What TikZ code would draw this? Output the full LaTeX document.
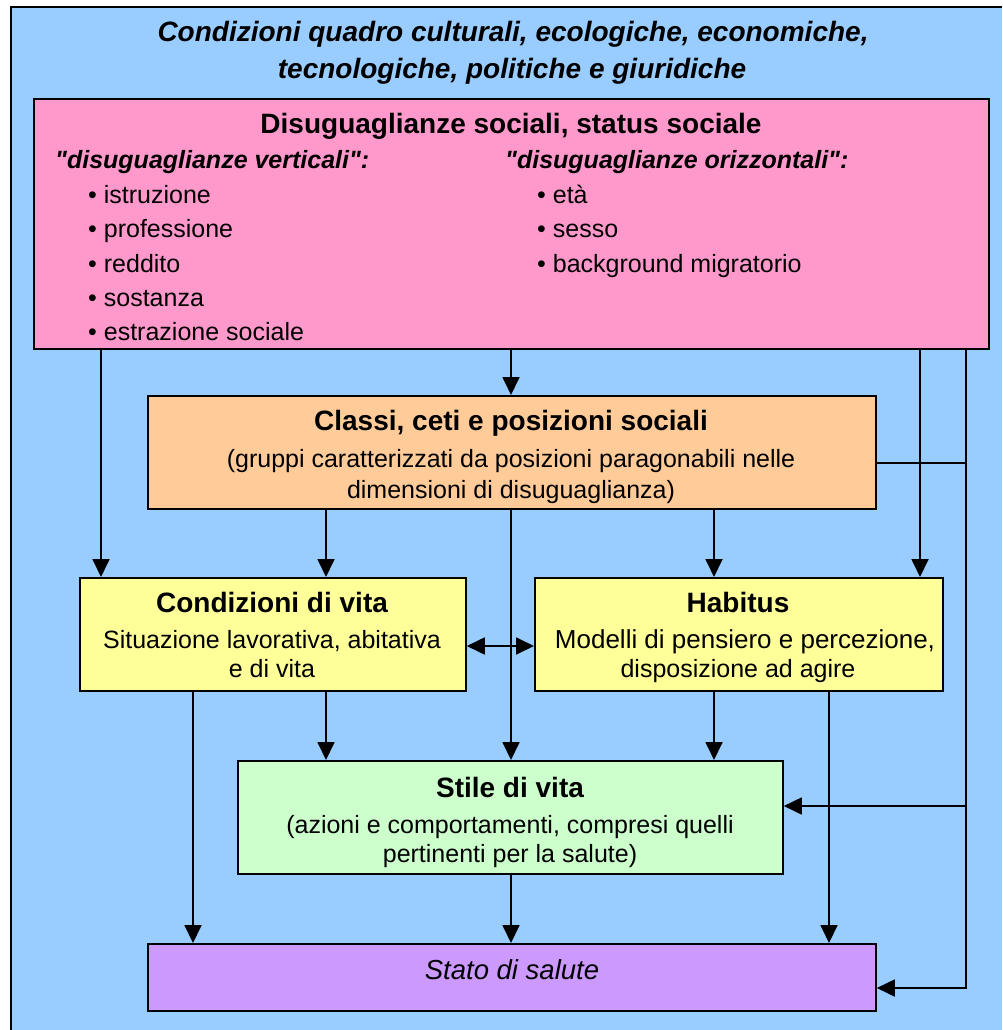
\documentclass[tikz,border=0pt]{standalone}
\usepackage{fontspec}
\setmainfont{Liberation Sans}
\usetikzlibrary{arrows.meta}
\definecolor{bgblue}{HTML}{99CCFF}
\definecolor{boxpink}{HTML}{FF99CC}
\definecolor{boxorange}{HTML}{FFCC99}
\definecolor{boxyellow}{HTML}{FFFF99}
\definecolor{boxgreen}{HTML}{CCFFCC}
\definecolor{boxviolet}{HTML}{CC99FF}
\newcommand{\bigbf}{\fontsize{28}{34}\selectfont\bfseries}
\newcommand{\normtxt}{\fontsize{25}{30}\selectfont}
\newcommand{\qt}{\textquotedbl}
\begin{document}
\begin{tikzpicture}[x=1pt,y=-1pt,
  box/.style={draw=black,line width=1.8pt,inner sep=0pt,anchor=north west},
  txt/.style={anchor=base,inner sep=0pt,font=\normtxt},
  head/.style={anchor=base,inner sep=0pt,font=\bigbf},
  lftxt/.style={anchor=base west,inner sep=0pt,font=\normtxt},
  conn/.style={line width=1.8pt},
  arr/.style={line width=1.8pt,-{Triangle[length=18pt,width=17pt]}},
  darr/.style={line width=1.8pt,{Triangle[length=18pt,width=17pt]}-{Triangle[length=18pt,width=17pt]}}]
\useasboundingbox (0,0) rectangle (1002,1030);
\fill[white] (0,0) rectangle (1002,1030);
% outer frame
\fill[bgblue] (11,7) rectangle (1002,1030);
\draw[line width=1.8pt] (11,1030) -- (11,7) -- (1002,7);
\node[head,font=\bigbf\itshape] (t1) at (513,42) {Condizioni quadro culturali, ecologiche, economiche,};
\node[head,font=\bigbf\itshape] (t2) at (512,79) {tecnologiche, politiche e giuridiche};

% boxes
\node[box,fill=boxpink,minimum width=955pt,minimum height=250pt] (dis) at (33,98) {};
\node[box,fill=boxorange,minimum width=728pt,minimum height=113pt] (cls) at (147,395) {};
\node[box,fill=boxyellow,minimum width=386pt,minimum height=113pt] (cv) at (79,577) {};
\node[box,fill=boxyellow,minimum width=408pt,minimum height=113pt] (hab) at (534,577) {};
\node[box,fill=boxgreen,minimum width=545pt,minimum height=113pt] (sty) at (237,760) {};
\node[box,fill=boxviolet,minimum width=728pt,minimum height=67pt] (sal) at (147,943) {};

% texts: inequalities
\node[head] (dis1) at (511,134) {Disuguaglianze sociali, status sociale};
\node[lftxt,font=\normtxt\bfseries\itshape] (vh) at (55,168) {\qt disuguaglianze verticali\qt:};
\node[lftxt] (v1) at (88,203) {• istruzione};
\node[lftxt] (v2) at (88,237) {• professione};
\node[lftxt] (v3) at (88,272) {• reddito};
\node[lftxt] (v4) at (88,306) {• sostanza};
\node[lftxt] (v5) at (88,340) {• estrazione sociale};
\node[lftxt,font=\normtxt\bfseries\itshape] (oh) at (505,168) {\qt disuguaglianze orizzontali\qt:};
\node[lftxt] (o1) at (537,203) {• età};
\node[lftxt] (o2) at (537,237) {• sesso};
\node[lftxt] (o3) at (537,272) {• background migratorio};

% texts: classes
\node[head] (cls1) at (511,430) {Classi, ceti e posizioni sociali};
\node[txt] (cls2) at (511,467) {(gruppi caratterizzati da posizioni paragonabili nelle};
\node[txt] (cls3) at (511,498) {dimensioni di disuguaglianza)};

% texts: living conditions
\node[head] (cv1) at (272,612) {Condizioni di vita};
\node[txt] (cv2) at (272,648) {Situazione lavorativa, abitativa};
\node[txt] (cv3) at (272,677) {e di vita};

% texts: habitus
\node[head] (hab1) at (738,612) {Habitus};
\node[txt,font=\fontsize{26}{30}\selectfont] (hab2) at (745,648) {Modelli di pensiero e percezione,};
\node[txt] (hab3) at (738,677) {disposizione ad agire};

% texts: lifestyle
\node[head] (sty1) at (510,797) {Stile di vita};
\node[txt] (sty2) at (510,833) {(azioni e comportamenti, compresi quelli};
\node[txt] (sty3) at (510,862) {pertinenti per la salute)};

% texts: health
\node[txt,font=\fontsize{27.5}{32}\selectfont\itshape] (sal1) at (512,979) {Stato di salute};

% connector columns
\coordinate (xa) at (101,0);
\coordinate (xb) at (193,0);
\coordinate (xc) at (326,0);
\coordinate (xm) at (511,0);
\coordinate (xd) at (714,0);
\coordinate (xe) at (829,0);
\coordinate (xf) at (920,0);
\coordinate (k463) at (966,463);
\coordinate (k806) at (966,806);
\coordinate (k988) at (966,988);
\coordinate (y646) at (0,646);

% connectors from the inequality box
\draw[arr] (dis.south -| xa) -- (cv.north -| xa);
\draw[arr] (dis.south -| xm) -- (cls.north -| xm);
\draw[arr] (dis.south -| xf) -- (hab.north -| xf);
\draw[arr] (dis.south -| k988) -- (k988) -- (sal.east |- k988);
\draw[conn] (cls.east |- k463) -- (k463);
\draw[arr] (k806) -- (sty.east |- k806);

% connectors from the classes box
\draw[arr] (cls.south -| xc) -- (cv.north -| xc);
\draw[arr] (cls.south -| xm) -- (sty.north -| xm);
\draw[arr] (cls.south -| xd) -- (hab.north -| xd);

% living conditions <-> habitus
\draw[darr] (cv.east |- y646) -- (hab.west |- y646);

% towards lifestyle and health
\draw[arr] (cv.south -| xb) -- (sal.north -| xb);
\draw[arr] (cv.south -| xc) -- (sty.north -| xc);
\draw[arr] (hab.south -| xd) -- (sty.north -| xd);
\draw[arr] (hab.south -| xe) -- (sal.north -| xe);
\draw[arr] (sty.south -| xm) -- (sal.north -| xm);
\end{tikzpicture}
\end{document}
